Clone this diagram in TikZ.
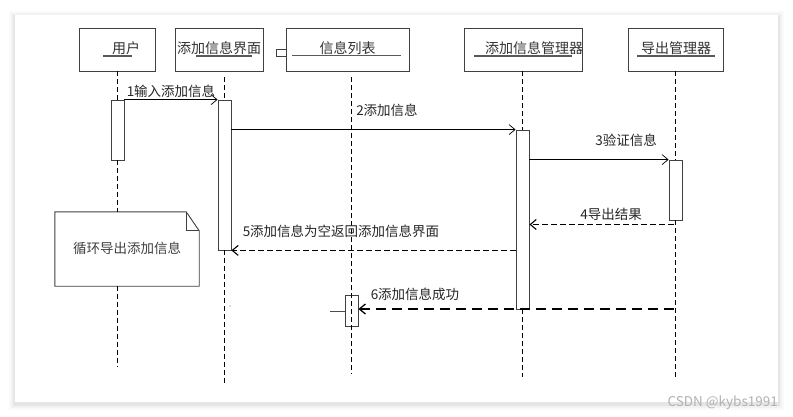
\documentclass[tikz,border=0pt]{standalone}
\usepackage{fontspec}
\setmainfont{Noto Sans CJK SC}
\usetikzlibrary{arrows.meta,calc}
\begin{document}
\begin{tikzpicture}[x=1pt,y=-1pt,
  obj/.style={draw=black!75, line width=0.8pt, minimum height=43pt, inner sep=0pt},
  boxtxt/.style={font=\fontsize{14}{15}\selectfont, text=black!80, inner sep=0pt},
  lbl/.style={font=\fontsize{13.5}{14}\selectfont, text=black!85, inner sep=0pt},
  uline/.style={draw=black!65, line width=1.1pt},
  life/.style={dash pattern=on 5pt off 3pt, line width=1.1pt},
  act/.style={draw=black!75, fill=white, line width=0.8pt, minimum width=13pt, inner sep=0pt},
  msg/.style={-{Straight Barb[length=6pt,width=10pt]}, line width=0.7pt},
  ret/.style={msg, dash pattern=on 6pt off 3pt, line width=1.1pt},
  ret2/.style={msg, dash pattern=on 10pt off 6pt, line width=1.3pt},
]
\useasboundingbox (0,0) rectangle (793,417);
\fill[white] (0,0) rectangle (793,417);
% card shadow
\foreach \d/\o in {6/0.02,4/0.03,2/0.05}{
  \fill[black,opacity=\o] (15-\d,15-\d+2) rectangle (778+\d,402+\d+2);
}
\fill[white] (15,15) rectangle (778,402);

% object boxes
\node[obj, minimum width=76pt]  (user) at (117,49.5) {};
\node[obj, minimum width=88pt]  (ui)   at (219,49.5) {};
\node[obj, minimum width=123pt] (list) at (347.5,49.5) {};
\node[obj, minimum width=118pt] (mgr)  at (523,49.5) {};
\node[obj, minimum width=95pt]  (exp)  at (675.5,49.5) {};

\node[boxtxt] (tuser) at (126,48) {用户};
\node[boxtxt] (tui)   at (219,48) {添加信息界面};
\node[boxtxt] (tlist) at (347.5,48) {信息列表};
\node[boxtxt] (tmgr)  at (534,48) {添加信息管理器};
\node[boxtxt] (texp)  at (676,48) {导出管理器};

\draw[uline] (103,56) -- (132,56);
\draw[uline] (196,56) -- (252,56);
\draw[uline] (292,55.5) -- (401,55.5);
\draw[uline] (474,56) -- (572,56);
\draw[uline] (637,56) -- (715,56);
% component icon
\draw[draw=black!75, line width=0.8pt, fill=white] (276,49.5) rectangle (286,56);

% activation boxes
\node[act, minimum height=60pt]  (a1) at (117.5,130) {};
\node[act, minimum height=150pt] (a2) at (224.5,175) {};
\node[act, minimum height=179pt] (a3) at (522.5,219.5) {};
\node[act, minimum height=60pt]  (a4) at (675.5,190) {};
\node[act, minimum height=31pt]  (a5) at (351.5,310.5) {};

% note
\node[minimum width=144pt, minimum height=74pt, inner sep=0pt] (note) at (127,249) {};
\draw[draw=black!75, line width=0.9pt, fill=white]
  (note.north west) -- ($(note.north east)+(-13,0)$) -- ($(note.north east)+(0,19)$)
  -- (note.south east) -- (note.south west) -- cycle;
\draw[draw=black!75, line width=0.8pt]
  ($(note.north east)+(-13,0)$) -- ($(note.north east)+(-13,19)$) -- ($(note.north east)+(0,19)$);
\node[lbl, text=black!75] at (127,248) {循环导出添加信息};

% lifelines
\coordinate (uend) at (117.5,367);
\coordinate (uiend) at (224.5,383);
\coordinate (lend) at (351.5,374);
\coordinate (mend) at (522.5,377);
\coordinate (eend) at (675.5,377);
\draw[life] (user.south -| a1.north) -- (a1.north);
\draw[life] (a1.south) -- (a1.south |- note.north);
\draw[life] (a1.south |- note.south) -- (uend);
\draw[life] (224.5,77) -- (a2.north);
\draw[life] (a2.south) -- (uiend);
\draw[life] (351.5,77) -- (lend);
\draw[life] (mgr.south -| a3.north) -- (a3.north);
\draw[life] (a3.south) -- (mend);
\draw[life] (exp.south -| a4.north) -- (a4.north);
\draw[life] (a4.south) -- (eend);

% messages
\draw[msg] (a1.north east) -- (a2.north west);
\node[lbl] (m1) at (171,91) {1输入添加信息};
\draw[msg] (a2.east |- a3.north) -- (a3.north west);
\node[lbl] (m2) at (387,110) {2添加信息};
\coordinate (m3s) at (a3.east |- a4.north);
\draw[msg] (m3s) -- (a4.north west);
\node[lbl] (m3) at (626,140) {3验证信息};
\coordinate (m4s) at (674,224.5);
\draw[ret] (m4s) -- (a3.east |- m4s);
\node[lbl] (m4) at (611,214) {4导出结果};
\draw[ret] (a3.west |- a2.south) -- (a2.south east);
\node[lbl] (m5) at (341,231) {5添加信息为空返回添加信息界面};
\coordinate (m6s) at (674,309);
\draw[ret2] (m6s) -- (a5.east |- m6s);
\node[lbl] (m6) at (415,294) {6添加信息成功};
\coordinate (stub) at (330,311);
\draw[draw=black!70, line width=0.9pt] (stub) -- (a5.west |- stub);

% stray dot
\fill[black!60] (230,306) circle (0.6);

% watermark
\node[font=\fontsize{13.5}{14}\selectfont, text=black!30, inner sep=0pt, anchor=east] (wm) at (778,403) {CSDN @kybs1991};
\end{tikzpicture}
\end{document}
